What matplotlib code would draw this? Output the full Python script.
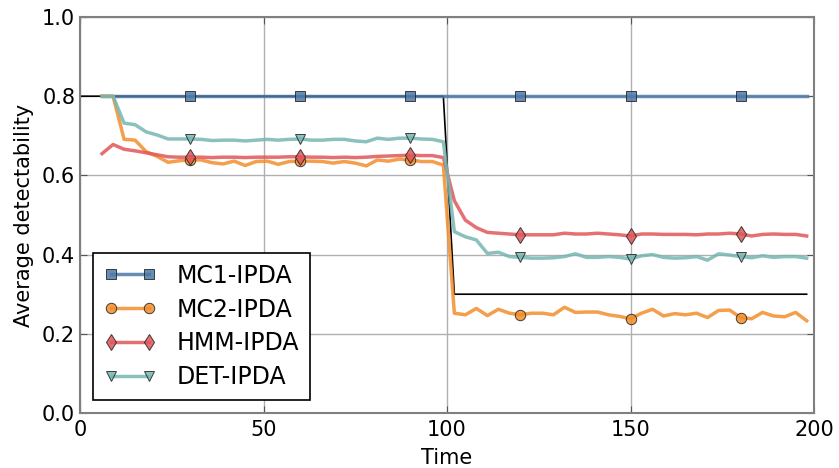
import numpy as np
import matplotlib
matplotlib.use("Agg")
import matplotlib.pyplot as plt

# time axis (estimates start at t=6, every 3 steps)
t = np.arange(6, 199, 3)

# true visibility (black reference line)
t_true = [0, 99, 102, 198]
true_vis = [0.8, 0.8, 0.3, 0.3]

mc1 = [0.8] * len(t)

mc2 = [0.8, 0.8, 0.691, 0.689, 0.660, 0.648, 0.633, 0.637, 0.639, 0.639, 0.632,
       0.629, 0.636, 0.625, 0.635, 0.636, 0.628, 0.635, 0.636, 0.636, 0.635,
       0.631, 0.635, 0.631, 0.624, 0.639, 0.636, 0.641, 0.639, 0.635, 0.635,
       0.626,
       0.252, 0.248, 0.264, 0.246, 0.262, 0.252, 0.248, 0.252, 0.252, 0.248,
       0.267, 0.254, 0.255, 0.255, 0.248, 0.244, 0.238, 0.252, 0.262, 0.245,
       0.251, 0.248, 0.252, 0.241, 0.259, 0.260, 0.241, 0.238, 0.254, 0.245,
       0.243, 0.254, 0.233]

hmm = [0.655, 0.678, 0.666, 0.662, 0.657, 0.652, 0.647, 0.646, 0.646, 0.646, 0.645,
       0.646, 0.646, 0.645, 0.646, 0.646, 0.646, 0.647, 0.647, 0.646, 0.646,
       0.645, 0.646, 0.645, 0.646, 0.648, 0.649, 0.650, 0.651, 0.650, 0.650,
       0.645,
       0.536, 0.487, 0.468, 0.456, 0.454, 0.452, 0.450, 0.450, 0.450, 0.450,
       0.454, 0.452, 0.452, 0.454, 0.452, 0.450, 0.447, 0.452, 0.452, 0.451,
       0.451, 0.451, 0.450, 0.452, 0.452, 0.454, 0.452, 0.447, 0.451, 0.452,
       0.451, 0.451, 0.447]

det = [0.8, 0.8, 0.732, 0.728, 0.710, 0.702, 0.692, 0.692, 0.692, 0.691, 0.688,
       0.689, 0.689, 0.687, 0.689, 0.691, 0.689, 0.691, 0.692, 0.689, 0.689,
       0.691, 0.691, 0.687, 0.685, 0.694, 0.691, 0.694, 0.694, 0.692, 0.691,
       0.685,
       0.458, 0.445, 0.437, 0.403, 0.406, 0.395, 0.393, 0.391, 0.391, 0.392,
       0.395, 0.402, 0.393, 0.393, 0.395, 0.393, 0.389, 0.397, 0.400, 0.393,
       0.391, 0.392, 0.395, 0.386, 0.402, 0.399, 0.395, 0.392, 0.397, 0.393,
       0.395, 0.395, 0.391]

labels = ["MC1-IPDA", "MC2-IPDA", "HMM-IPDA", "DET-IPDA"]
colors = ["#4E79A7", "#F28E2B", "#E15759", "#76B7B2"]
markers = ["s", "o", "d", "v"]

fig = plt.figure(figsize=(8.39, 4.68), dpi=100)
ax = fig.add_axes([0.0954, 0.1175, 0.8748, 0.8462])

ax.plot(t_true, true_vis, color="black", lw=1.2, zorder=2)

for y, lab, c, m in zip([mc1, mc2, hmm, det], labels, colors, markers):
    ms = 8.5 if m == "d" else 7.5
    ax.plot(t, y, color=c, lw=2.5, alpha=0.85, marker=m, markersize=ms,
            markevery=(8, 10), markerfacecolor=c, markeredgecolor="#222222",
            markeredgewidth=0.7, label=lab, zorder=3)

ax.set_xlim(0, 200)
ax.set_ylim(0, 1.0)
ax.set_xticks([0, 50, 100, 150, 200])
ax.set_yticks(np.arange(0, 1.01, 0.2))
ax.yaxis.set_major_formatter(matplotlib.ticker.FormatStrFormatter("%.1f"))
ax.grid(True, color="#b0b0b0", lw=1.0, ls="-")
ax.set_axisbelow(True)
ax.tick_params(direction="in", top=True, right=True, labelsize=15,
               length=5, color="#555555")
ax.tick_params(axis="x", pad=5)
for s in ax.spines.values():
    s.set_color("#808080")
    s.set_linewidth(1.5)

ax.set_xlabel("Time", fontsize=15, labelpad=6)
ax.set_ylabel("Average detectability", fontsize=15, labelpad=6)

leg = ax.legend(loc="lower left", numpoints=2, fontsize=17, fancybox=False,
                framealpha=1, edgecolor="black", handlelength=2.2,
                borderaxespad=0.55, labelspacing=0.42, handletextpad=0.9,
                borderpad=0.45)
leg.get_frame().set_linewidth(1.2)

fig.savefig("out.png", dpi=100)
